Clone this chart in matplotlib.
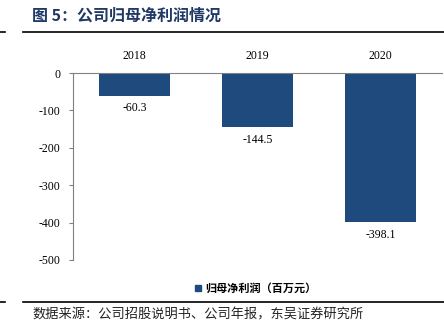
import matplotlib

matplotlib.use("Agg")
import matplotlib.pyplot as plt  # noqa: E402
from matplotlib.lines import Line2D  # noqa: E402

years = ["2018", "2019", "2020"]
net_profit = [-60.3, -144.5, -398.1]
yticks = [0, -100, -200, -300, -400, -500]

BAR = "#1F4A7E"
NAVY = "#1F3864"
CJK = ["Noto Sans CJK SC", "DejaVu Sans"]
SERIF = "Liberation Serif"

fig = plt.figure(figsize=(4.44, 3.24), dpi=100)
ax = fig.add_axes([73 / 444, 1 - 260 / 324, 369 / 444, 187 / 324])

x = range(len(years))
ax.bar(x, net_profit, width=0.57, color=BAR)
for xi, v in zip(x, net_profit):
    ax.annotate(f"{v:.1f}", (xi, v), textcoords="offset points", xytext=(0, -5),
                ha="center", va="top", fontsize=8.5, family=SERIF)

ax.set_xlim(-0.5, len(years) - 0.5)
ax.set_ylim(-500, 0)
ax.set_yticks(yticks)
ax.set_yticklabels([str(t) for t in yticks], family=SERIF, fontsize=8.5)
ax.xaxis.tick_top()
ax.set_xticks(list(x))
ax.set_xticklabels(years, family=SERIF, fontsize=8.5)
ax.tick_params(axis="x", length=0, pad=8)
ax.tick_params(axis="y", length=3, width=0.8, color="#808080", pad=6)
for side in ("right", "bottom"):
    ax.spines[side].set_visible(False)
for side in ("left", "top"):
    ax.spines[side].set_color("#808080")
    ax.spines[side].set_linewidth(0.8)

# legend below the plot
handle = Line2D([], [], marker="s", color=BAR, linestyle="none", markersize=4.5)
fig.legend([handle], ["归母净利润（百万元）"], loc="center", bbox_to_anchor=(255 / 444, 1 - 288 / 324),
           frameon=False, prop={"family": CJK, "size": 8, "weight": "bold"},
           handletextpad=0.2, handlelength=0.8)

# header and footer rules
fig.text(32 / 444, 1 - 16 / 324, "图 5：公司归母净利润情况", family=CJK, fontsize=11.5,
         weight="bold", color=NAVY, va="center")
for y in (32, 302):
    fig.add_artist(Line2D([0, 5 / 444], [1 - y / 324] * 2, color="black", lw=1.2))
    fig.add_artist(Line2D([23 / 444, 1], [1 - y / 324] * 2, color="black", lw=1.2))
fig.text(32 / 444, 1 - 315 / 324, "数据来源：公司招股说明书、公司年报，东吴证券研究所",
         family=CJK, fontsize=9.5, va="center", color="#222222")

fig.savefig("out.png", dpi=100, facecolor="white")
